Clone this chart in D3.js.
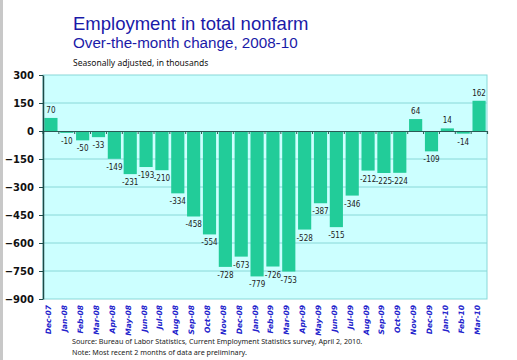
<!DOCTYPE html>
<html><head><meta charset="utf-8">
<script src="https://cdn.jsdelivr.net/npm/d3@7"></script>
<style>body{margin:0;background:#fff}svg{display:block}</style>
</head><body>
<script>
const months = ["Dec-07","Jan-08","Feb-08","Mar-08","Apr-08","May-08","Jun-08","Jul-08","Aug-08","Sep-08","Oct-08","Nov-08","Dec-08","Jan-09","Feb-09","Mar-09","Apr-09","May-09","Jun-09","Jul-09","Aug-09","Sep-09","Oct-09","Nov-09","Dec-09","Jan-10","Feb-10","Mar-10"];
const changes = [70,-10,-50,-33,-149,-231,-193,-210,-334,-458,-554,-728,-673,-779,-726,-753,-528,-387,-515,-346,-212,-225,-224,64,-109,14,-14,162];
const yTicks = [300,150,0,-150,-300,-450,-600,-750,-900];

const W=517,H=360;
const svg=d3.select("body").append("svg").attr("width",W).attr("height",H);
svg.append("rect").attr("x",0).attr("y",0).attr("width",3).attr("height",H).attr("fill","#c8c8c8");

const L=43,R=487,T=75,B=299;
const x=d3.scaleBand().domain(months).range([L,R]).paddingInner(0.17).paddingOuter(0.085);
const y=d3.scaleLinear().domain([-900,300]).range([B,T]);

svg.append("rect").attr("x",L).attr("y",T).attr("width",R-L).attr("height",B-T).attr("fill","#ccffff").attr("stroke","#88d8d8");
svg.append("g").selectAll("line").data(yTicks.filter(d=>d!==300&&d!==-900&&d!==0)).join("line")
 .attr("x1",L).attr("x2",R).attr("y1",d=>y(d)).attr("y2",d=>y(d)).attr("stroke","#88d8d8").attr("stroke-width",1);

svg.append("g").selectAll("rect").data(changes).join("rect")
 .attr("x",(d,i)=>x(months[i])).attr("width",x.bandwidth())
 .attr("y",d=>y(Math.max(0,d))).attr("height",d=>Math.abs(y(d)-y(0)))
 .attr("fill","#22cc99");

// zero axis
const xa=d3.axisBottom(x).tickSize(3).tickFormat("");
const gx=svg.append("g").attr("transform",`translate(0,${y(0)})`).call(xa);
gx.select(".domain").attr("stroke","#2a5a55").attr("stroke-width",1.2);
gx.selectAll(".tick line").attr("stroke","#2a5a55").attr("transform",`translate(${-x.step()/2},0)`);

const ya=d3.axisLeft(y).tickValues(yTicks).tickSize(4).tickSizeOuter(0).tickFormat(d3.format("d"));
const gy=svg.append("g").attr("transform",`translate(${L},0)`).call(ya);
gy.select(".domain").attr("stroke","#1e4a48").attr("stroke-width",1.5);
gy.selectAll(".tick line").attr("stroke","#1e4a48");
gy.selectAll("text").attr("font-family","DejaVu Sans").attr("font-weight","bold").attr("font-size",10).attr("fill","#111").attr("x",-9);

// bar labels
svg.append("g").selectAll("text").data(changes).join("text")
 .attr("x",(d,i)=>x(months[i])+x.bandwidth()/2)
 .attr("y",d=>d>=0?y(d)-5:y(d)+11)
 .attr("text-anchor","middle").attr("font-family","DejaVu Sans Condensed, DejaVu Sans").attr("font-size",8).attr("fill","#222")
 .text(d=>d);

// month labels
svg.append("g").selectAll("text").data(months).join("text")
 .attr("transform",d=>`translate(${x(d)+x.bandwidth()/2+0.5},305) rotate(-90)`)
 .attr("text-anchor","end").attr("font-family","DejaVu Sans").attr("font-weight","bold").attr("font-style","italic")
 .attr("font-size",7.5).attr("fill","#2222cc").text(d=>d);

svg.append("text").attr("x",73).attr("y",30).attr("font-family","Liberation Sans").attr("font-size",18.5).attr("fill","#1a1aa8").text("Employment in total nonfarm");
svg.append("text").attr("x",73).attr("y",48).attr("font-family","Liberation Sans").attr("font-size",15.2).attr("fill","#1a1aa8").text("Over-the-month change, 2008-10");
svg.append("text").attr("x",73).attr("y",66).attr("font-family","Noto Sans").attr("font-size",8.5).attr("fill","#111").text("Seasonally adjusted, in thousands");
svg.append("text").attr("x",72).attr("y",344).attr("font-family","Noto Sans").attr("font-size",7.2).attr("fill","#222").text("Source:  Bureau of Labor Statistics, Current Employment Statistics survey, April 2, 2010.");
svg.append("text").attr("x",72).attr("y",355).attr("font-family","Noto Sans").attr("font-size",7.2).attr("fill","#222").text("Note: Most recent 2 months of data are preliminary.");
</script>
</body></html>
